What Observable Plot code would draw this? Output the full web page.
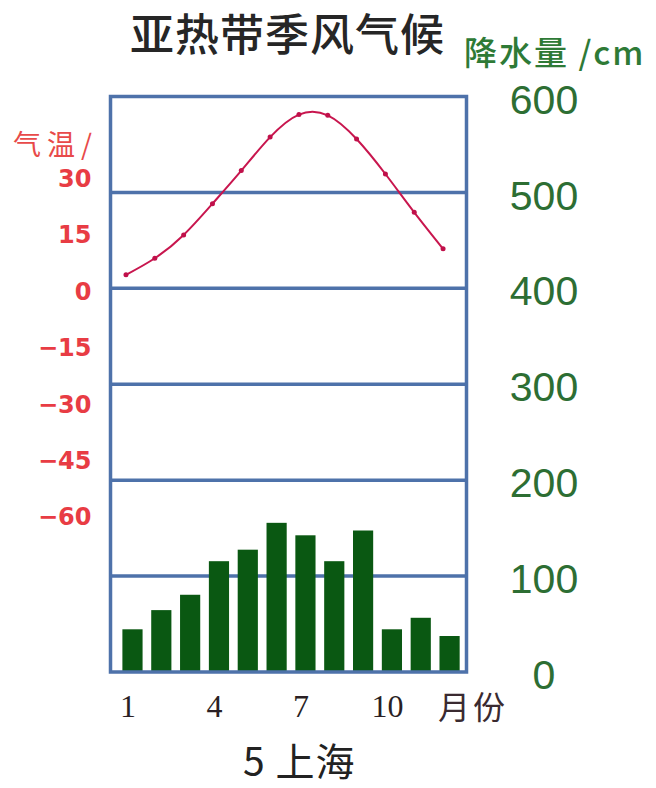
<!DOCTYPE html>
<html>
<head>
<meta charset="utf-8">
<script src="https://cdn.jsdelivr.net/npm/d3@7"></script>
<script src="https://cdn.jsdelivr.net/npm/@observablehq/plot@0.6"></script>
<style>
  html, body { margin: 0; padding: 0; background: #fff; }
  #chart { position: relative; width: 656px; height: 788px; overflow: hidden; }
  #chart svg { position: absolute; left: 0; top: 0; background: transparent !important; }
  .lbl { position: absolute; white-space: nowrap; font-family: "Noto Sans CJK SC", "Noto Sans", sans-serif; line-height: 1; }
</style>
</head>
<body>
<div id="chart">
  <div class="lbl" id="title" style="left:130px; top:10px; font-size:44px; color:#262626; letter-spacing:1px; font-weight:500;">亚热带季风气候</div>
  <div class="lbl" id="pTitle" style="left:464px; top:35px; font-size:33px; color:#2e7a36; letter-spacing:2px; font-weight:500;">降水量 /cm</div>
  <div class="lbl" id="tTitle" style="left:13px; top:129px; font-size:28px; color:#e84a4a; letter-spacing:6px;">气温/</div>
  <div class="lbl" id="mLabel" style="left:438px; top:689px; font-size:32px; color:#3a2a30; letter-spacing:3px;">月份</div>
  <div class="lbl" id="city" style="left:243px; top:740px; font-size:39px; color:#222; letter-spacing:1px;">5 上海</div>
</div>
<script>
// Data
const months = [1, 2, 3, 4, 5, 6, 7, 8, 9, 10, 11, 12];
const precip = [44, 64, 80, 115, 127, 155, 142, 115, 147, 44, 56, 37];
const temps = [4.6, 9.0, 15.2, 23.5, 32.3, 41.2, 47.2, 47.0, 40.7, 31.4, 21.2, 11.5];
const monthTicks = [1, 4, 7, 10];
const precipTicks = [0, 100, 200, 300, 400, 500, 600];
const gridValues = [100, 200, 300, 400, 500];
const tempTicks = [30, 15, 0, -15, -30, -45, -60];

const pData = months.map((m, i) => ({month: m, p: precip[i]}));
const tData = months.map((m, i) => ({month: m, t: temps[i]}));

const W = 656, H = 788;
const margins = {marginTop: 96, marginBottom: 116.5, marginLeft: 110, marginRight: 190};
const frameColor = "#4e72aa";
const xDomain = [0.22, 12.57];

const precipPlot = Plot.plot({
  width: W, height: H, ...margins,
  x: {type: "linear", domain: xDomain},
  y: {domain: [0, 600]},
  marks: [
    Plot.ruleY(gridValues, {stroke: frameColor, strokeWidth: 3.5}),
    Plot.rectY(pData, {x1: d => d.month - 0.35, x2: d => d.month + 0.35, y: "p", fill: "#0a5812"}),
    Plot.frame({stroke: frameColor, strokeWidth: 3.5}),
    Plot.axisY(precipTicks, {anchor: "right", tickSize: 0, tickPadding: 77.5, textAnchor: "middle",
      fontSize: 41, fontFamily: "Liberation Sans, Arial, sans-serif", fill: "#2d6e33", dy: 4, label: null}),
    Plot.axisX(monthTicks, {anchor: "bottom", tickSize: 0, tickPadding: 22, dx: -5,
      fontSize: 32, fontFamily: "Liberation Serif, serif", fill: "#2a1f24", label: null})
  ]
});

const tempPlot = Plot.plot({
  width: W, height: H, ...margins,
  x: {type: "linear", domain: xDomain, axis: null},
  y: {domain: [-101, 52]},
  marks: [
    Plot.line(tData, {x: "month", y: "t", curve: "natural", stroke: "#c8164e", strokeWidth: 2, dx: -7}),
    Plot.dot(tData, {x: "month", y: "t", r: 2.5, fill: "#c0104a", dx: -7}),
    Plot.axisY(tempTicks, {anchor: "left", tickSize: 0, tickPadding: 19,
      fontSize: 24, fontWeight: "bold", fontFamily: "DejaVu Sans, sans-serif", fill: "#e83c44", label: null})
  ]
});

const chart = document.getElementById("chart");
chart.insertBefore(precipPlot, chart.firstChild);
chart.insertBefore(tempPlot, precipPlot.nextSibling);
</script>
</body>
</html>
